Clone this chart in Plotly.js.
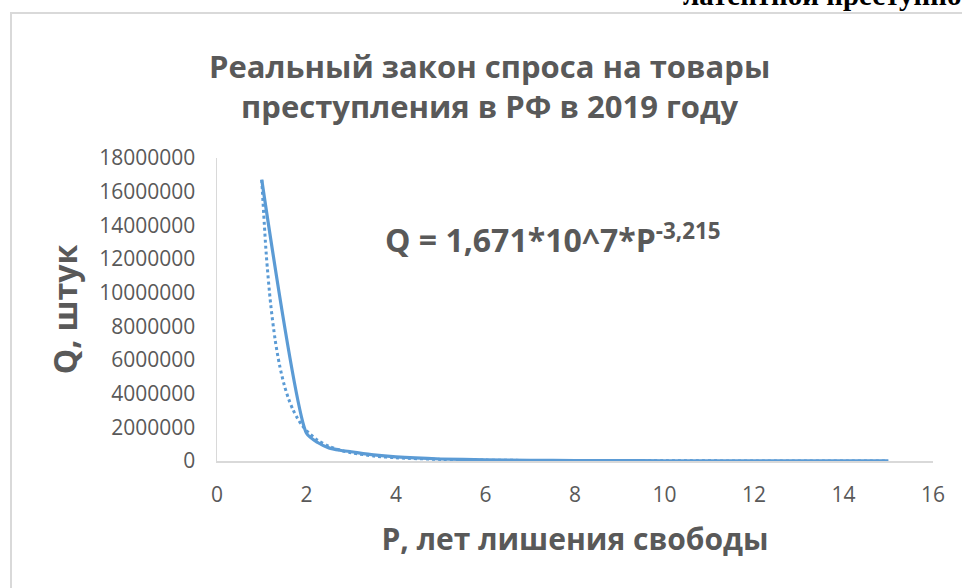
<!DOCTYPE html>
<html>
<head>
<meta charset="utf-8">
<script src="https://cdn.plot.ly/plotly-3.0.1.min.js"></script>
<style>
  html, body { margin: 0; padding: 0; background: #ffffff; overflow: hidden; }
  #wrap { position: relative; width: 962px; height: 588px; overflow: hidden; background: #fff; }
  #frame { position: absolute; left: 10px; top: 12px; width: 970px; height: 600px;
           border-left: 2px solid #D9D9D9; border-top: 2px solid #D9D9D9; box-sizing: border-box; }
  #toptext { position: absolute; left: 683px; top: -21px; white-space: nowrap;
             font-family: "Liberation Serif", "Times New Roman", serif; font-weight: bold;
             font-size: 29px; color: #000; }
  #chart { position: absolute; left: 0; top: 0; width: 962px; height: 588px; }
</style>
</head>
<body>
<div id="wrap">
  <div id="toptext">латентной преступности</div>
  <div id="frame"></div>
  <div id="chart"></div>
</div>
<script>
const P_actual = [1, 2, 2.25, 2.5, 2.75, 3, 3.5, 4, 5, 6, 7, 8, 9, 10, 11, 12, 13, 14, 15];
const Q_actual = [16710000, 1650000, 1100000, 780000, 640000, 550000, 360000, 240000, 120000,
                  70000, 45000, 30000, 20000, 15000, 11000, 8000, 6000, 5000, 4000];

// Power trend line (values as shown by the dotted curve / equation on the chart)
const P_trend = [1, 1.1, 1.2, 1.3, 1.4, 1.5, 1.6, 1.7, 1.8, 1.9, 2, 2.25, 2.5, 2.75, 3, 3.5, 4, 5, 6, 7, 8, 10, 12, 15];
const Q_trend = [16710000, 12300000, 9299000, 7188000, 5665000, 4538000, 3688000, 3034000, 2525000,
                 2122000, 1800000, 1232000, 878500, 646500, 488600, 297600, 193800, 94600, 52650,
                 32070, 20880, 10180, 5660, 2770];

const titleText = "Реальный закон спроса на товары<br>преступления в РФ в 2019 году";
const xTitle = "P, лет лишения свободы";
const yTitle = "Q, штук";
const equation = "Q = 1,671*10^7*P<sup>-3,215</sup>";

const xTicks = [0, 2, 4, 6, 8, 10, 12, 14, 16];
const yTicks = [0, 2000000, 4000000, 6000000, 8000000, 10000000, 12000000, 14000000, 16000000, 18000000];

const blue = "#5B9BD5";
const grey = "#595959";
const font = "Open Sans, Noto Sans, sans-serif";

const traces = [
  {
    x: P_trend, y: Q_trend, type: "scatter", mode: "lines",
    line: { color: blue, width: 3, dash: "dot", shape: "spline", smoothing: 0.8 },
    hoverinfo: "skip", showlegend: false
  },
  {
    x: P_actual, y: Q_actual, type: "scatter", mode: "lines",
    line: { color: blue, width: 3.2, shape: "spline", smoothing: 0.6 },
    showlegend: false
  }
];

const layout = {
  width: 962, height: 588,
  paper_bgcolor: "rgba(0,0,0,0)", plot_bgcolor: "rgba(0,0,0,0)",
  margin: { l: 217, r: 29, t: 158, b: 127 },
  font: { family: font, color: grey },
  title: {
    text: titleText,
    font: { family: font, size: 31, color: grey, weight: "bold" },
    x: 0.509, xref: "container", xanchor: "center",
    y: 1 - 78 / 588, yref: "container", yanchor: "middle"
  },
  xaxis: {
    range: [0, 16], tickvals: xTicks, ticktext: xTicks.map(String),
    showgrid: false, zeroline: false, showline: true, linecolor: "#D9D9D9", linewidth: 1.5,
    ticks: "", ticklabelstandoff: 14, tickfont: { family: font, size: 21, color: grey },
    title: { text: xTitle, font: { family: font, size: 30, color: grey, weight: "bold" }, standoff: 22 },
    fixedrange: true
  },
  yaxis: {
    range: [0, 18000000], tickvals: yTicks, ticktext: yTicks.map(String),
    showgrid: false, zeroline: false, showline: true, linecolor: "#D9D9D9", linewidth: 1.5,
    ticks: "", ticklabelstandoff: 16, tickfont: { family: font, size: 21, color: grey },
    title: { text: yTitle, font: { family: font, size: 32, color: grey, weight: "bold" }, standoff: 12 },
    fixedrange: true
  },
  annotations: [
    {
      x: 3.71, y: 13230000, xref: "x", yref: "y", xanchor: "left", yanchor: "middle",
      text: equation, showarrow: false,
      font: { family: font, size: 32, color: grey, weight: "bold" }
    }
  ]
};

Plotly.newPlot("chart", traces, layout, { displayModeBar: false, staticPlot: true });
</script>
</body>
</html>
